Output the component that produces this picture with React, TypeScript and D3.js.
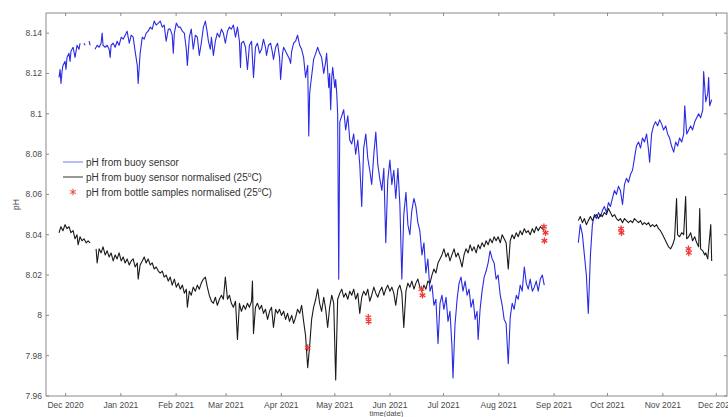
import React from "react";
import * as d3 from "d3";

// days since 1 Dec 2020, pH
const buoyRawA: [number, number][] = [
  [-3.7, 8.118], [-3.1, 8.122], [-2.6, 8.115], [-2.0, 8.121], [-1.5, 8.124], [-0.3, 8.126], [0.2, 8.122],
  [0.8, 8.128], [1.9, 8.13], [2.5, 8.126], [3.0, 8.131], [4.2, 8.133], [5.3, 8.128], [6.4, 8.134],
  [7.5, 8.132], [8.1, 8.135],
];
const buoyRawB: [number, number][] = [[10.3, 8.135], [10.9, 8.134]];
const buoyRawC: [number, number][] = [[13.2, 8.136], [13.7, 8.134]];
const buoyRawD: [number, number][] = [
  [16.5, 8.132], [17.7, 8.134], [18.8, 8.133], [19.9, 8.135], [20.5, 8.14], [21.0, 8.134], [22.2, 8.133],
  [23.3, 8.134], [24.4, 8.132], [25.0, 8.128], [25.5, 8.134], [26.7, 8.135], [27.8, 8.133], [28.9, 8.136],
  [30.0, 8.134], [31.2, 8.138], [32.3, 8.137], [33.4, 8.139], [34.5, 8.141], [35.7, 8.135], [36.8, 8.139],
  [37.9, 8.138], [39.0, 8.131], [40.2, 8.124], [40.7, 8.115], [41.8, 8.13], [43.0, 8.138], [44.1, 8.137],
  [45.2, 8.14], [46.3, 8.141], [47.5, 8.143], [48.6, 8.142], [49.7, 8.146], [50.8, 8.144], [52.0, 8.145],
  [53.1, 8.146], [54.2, 8.143], [55.3, 8.144], [56.4, 8.136], [57.6, 8.142], [58.7, 8.142], [59.8, 8.139],
  [60.4, 8.13], [61.0, 8.14], [62.1, 8.145], [63.2, 8.143], [64.3, 8.143], [65.5, 8.141], [66.6, 8.14],
  [67.7, 8.132], [68.3, 8.124], [69.4, 8.138], [70.5, 8.142], [71.6, 8.132], [72.8, 8.139], [73.9, 8.138],
  [75.0, 8.129], [76.1, 8.135], [77.3, 8.143], [78.4, 8.146], [79.5, 8.14], [80.1, 8.136], [81.2, 8.132],
  [81.8, 8.138], [82.9, 8.129], [84.0, 8.136], [85.1, 8.14], [86.3, 8.138], [87.4, 8.142], [88.5, 8.14],
  [89.6, 8.135], [90.8, 8.141], [91.9, 8.143], [93.0, 8.142], [94.1, 8.144], [95.3, 8.138], [96.4, 8.143],
  [97.5, 8.136], [98.1, 8.123], [98.6, 8.135], [99.8, 8.136], [100.9, 8.133], [102.0, 8.122], [103.1, 8.134],
  [104.3, 8.136], [105.4, 8.118], [106.5, 8.133], [107.6, 8.135], [108.8, 8.13], [109.9, 8.132], [111.0, 8.137],
  [112.1, 8.133], [112.7, 8.129], [113.8, 8.134], [115.0, 8.135], [116.1, 8.13], [116.6, 8.127], [117.8, 8.133],
  [118.9, 8.135], [120.0, 8.128], [120.6, 8.117], [121.7, 8.13], [122.3, 8.133], [123.4, 8.131], [124.5, 8.129],
  [125.6, 8.127], [126.2, 8.125], [126.8, 8.131], [127.9, 8.135], [129.0, 8.136], [130.1, 8.139], [131.3, 8.134],
  [132.4, 8.132], [133.5, 8.128], [134.6, 8.118], [135.8, 8.124], [136.4, 8.089], [136.9, 8.11], [137.5, 8.115],
  [138.6, 8.123], [139.1, 8.127], [140.3, 8.13], [141.4, 8.133], [142.5, 8.13], [143.6, 8.128], [144.8, 8.12],
  [145.9, 8.126], [146.4, 8.13], [147.6, 8.113], [148.1, 8.12], [148.7, 8.102], [149.3, 8.118], [149.8, 8.123],
  [151.0, 8.113], [151.5, 8.117], [152.1, 8.11], [152.6, 8.1], [153.2, 8.018], [153.8, 8.096], [154.9, 8.099],
  [156.0, 8.102], [157.1, 8.092], [158.3, 8.099], [159.4, 8.087], [160.5, 8.085], [161.6, 8.09], [162.7, 8.08],
  [163.9, 8.087], [165.0, 8.075], [166.1, 8.054], [167.2, 8.083], [168.4, 8.09], [169.5, 8.078], [170.6, 8.072],
  [171.7, 8.065], [172.9, 8.08], [174.0, 8.091], [175.1, 8.075], [176.2, 8.068], [177.4, 8.062], [178.5, 8.073],
  [179.6, 8.036], [180.7, 8.067], [181.9, 8.077], [183.0, 8.065], [184.1, 8.072], [185.2, 8.058], [186.4, 8.073],
  [187.5, 8.055], [188.6, 8.018], [189.7, 8.05], [190.9, 8.061], [192.0, 8.045], [193.1, 8.04], [194.2, 8.052],
  [195.4, 8.058], [196.5, 8.054], [197.6, 8.046], [198.7, 8.042], [199.9, 8.03], [201.0, 8.036], [202.1, 8.021],
  [203.2, 8.028], [204.4, 8.012], [205.5, 8.015], [206.6, 8.005], [207.7, 8.008], [208.9, 7.986], [210.0, 8.006],
  [211.1, 8.01], [212.2, 8.003], [213.4, 8.009], [214.5, 7.997], [215.6, 8.002], [216.7, 7.985], [217.3, 7.969],
  [218.4, 7.995], [219.6, 8.008], [220.7, 8.016], [221.8, 8.019], [222.9, 8.012], [224.1, 8.017], [225.2, 8.01],
  [226.3, 8.013], [227.4, 8.004], [228.6, 8.008], [229.7, 7.998], [230.8, 8.002], [231.4, 7.988], [232.5, 8.003],
  [233.6, 8.012], [234.8, 8.019], [235.9, 8.022], [237.0, 8.026], [238.1, 8.032], [239.3, 8.028], [240.4, 8.026],
  [241.5, 8.018], [242.6, 8.02], [243.8, 8.01], [244.9, 8.005], [246.0, 7.998], [247.1, 7.996], [248.3, 7.976],
  [249.4, 7.999], [250.5, 8.006], [251.6, 8.003], [252.8, 8.01], [253.9, 8.008], [255.0, 8.015], [256.1, 8.012],
  [257.3, 8.024], [258.4, 8.016], [259.5, 8.013], [260.6, 8.018], [261.8, 8.012], [262.9, 8.014], [264.0, 8.017],
  [265.1, 8.012], [266.3, 8.018], [267.4, 8.02], [268.5, 8.015],
];
const buoyRawE: [number, number][] = [
  [287.6, 8.036], [288.7, 8.045], [289.9, 8.04], [291.0, 8.03], [292.1, 8.02], [293.2, 8.001], [294.4, 8.03],
  [295.5, 8.045], [296.6, 8.05], [297.7, 8.048], [298.9, 8.051], [300.0, 8.049], [301.1, 8.052], [302.2, 8.054],
  [303.4, 8.051], [304.5, 8.056], [305.6, 8.054], [306.7, 8.058], [307.9, 8.062], [309.0, 8.06], [310.1, 8.064],
  [311.2, 8.062], [312.4, 8.055], [313.5, 8.065], [314.6, 8.068], [315.7, 8.066], [316.9, 8.07], [318.0, 8.072],
  [319.1, 8.078], [320.2, 8.084], [321.4, 8.086], [322.5, 8.083], [323.6, 8.088], [324.7, 8.086], [325.9, 8.09],
  [327.0, 8.082], [327.6, 8.076], [328.7, 8.09], [329.8, 8.094], [330.9, 8.096], [332.1, 8.094], [333.2, 8.097],
  [334.3, 8.095], [335.4, 8.092], [336.6, 8.094], [337.7, 8.09], [338.8, 8.088], [339.9, 8.084], [341.1, 8.081],
  [342.2, 8.086], [343.3, 8.084], [344.4, 8.088], [345.6, 8.086], [346.7, 8.09], [347.3, 8.104], [348.4, 8.09],
  [349.5, 8.092], [350.6, 8.094], [351.7, 8.092], [352.9, 8.096], [354.0, 8.098], [355.1, 8.1], [356.2, 8.098],
  [357.4, 8.102], [357.9, 8.121], [359.1, 8.106], [360.2, 8.11], [360.7, 8.118], [361.3, 8.104], [362.4, 8.107],
];

const buoyNormA: [number, number][] = [
  [-3.7, 8.041], [-2.6, 8.044], [-1.5, 8.042], [-0.3, 8.045], [0.8, 8.043], [1.9, 8.044], [3.0, 8.041],
  [4.2, 8.042], [5.3, 8.038], [6.4, 8.04], [7.0, 8.035], [8.1, 8.039], [9.2, 8.037], [10.3, 8.038],
  [11.5, 8.036], [12.6, 8.037], [13.7, 8.036],
];
const buoyNormB: [number, number][] = [
  [17.1, 8.033], [17.7, 8.026], [18.8, 8.033], [19.9, 8.031], [21.0, 8.034], [22.2, 8.03], [23.3, 8.032],
  [24.4, 8.029], [25.5, 8.031], [26.7, 8.027], [27.8, 8.03], [28.9, 8.028], [30.0, 8.031], [31.2, 8.027],
  [32.3, 8.029], [33.4, 8.026], [34.5, 8.028], [35.7, 8.025], [36.8, 8.027], [37.9, 8.028], [39.0, 8.024],
  [40.2, 8.026], [40.7, 8.018], [41.8, 8.025], [43.0, 8.027], [44.1, 8.029], [45.2, 8.026], [46.3, 8.028],
  [47.5, 8.025], [48.6, 8.026], [49.7, 8.023], [50.8, 8.024], [52.0, 8.022], [53.1, 8.021], [54.2, 8.022],
  [55.3, 8.019], [56.4, 8.02], [57.6, 8.017], [58.7, 8.019], [59.8, 8.015], [61.0, 8.018], [62.1, 8.014],
  [63.2, 8.016], [64.3, 8.013], [65.5, 8.015], [66.6, 8.011], [67.7, 8.013], [68.3, 8.004], [69.4, 8.012],
  [70.5, 8.01], [71.6, 8.014], [72.8, 8.012], [73.9, 8.015], [75.0, 8.013], [76.1, 8.016], [77.3, 8.018],
  [78.4, 8.019], [79.5, 8.014], [80.6, 8.01], [81.8, 8.007], [82.9, 8.006], [84.0, 8.009], [85.1, 8.005],
  [86.3, 8.008], [87.4, 8.01], [88.5, 8.008], [89.6, 8.019], [90.8, 8.008], [91.9, 8.01], [93.0, 8.006],
  [94.1, 8.004], [95.3, 8.007], [96.4, 7.988], [97.5, 8.006], [98.6, 8.002], [99.8, 8.005], [100.9, 8.003],
  [102.0, 8.006], [103.1, 8.004], [104.3, 8.007], [104.8, 8.017], [105.4, 7.991], [106.5, 8.004], [107.6, 8.006],
  [108.8, 8.003], [109.9, 8.005], [111.0, 8.001], [112.1, 8.003], [113.3, 7.998], [114.4, 8.002], [115.5, 8.004],
  [116.6, 7.994], [117.8, 8.003], [118.9, 8.001], [120.0, 8.003], [121.1, 8.0], [122.3, 8.002], [123.4, 7.998],
  [124.5, 8.001], [125.6, 7.997], [126.8, 8.0], [127.9, 7.996], [129.0, 7.999], [130.1, 8.003], [131.3, 8.001],
  [132.4, 8.005], [133.5, 7.997], [134.6, 7.99], [135.8, 7.974], [136.9, 7.985], [138.0, 7.998], [139.1, 8.004],
  [140.3, 8.008], [141.4, 8.013], [142.5, 8.006], [143.6, 8.002], [144.8, 8.009], [145.9, 8.003], [147.0, 7.994],
  [148.1, 8.004], [149.3, 8.01], [150.4, 8.006], [151.5, 7.968], [152.6, 8.008], [153.8, 8.011], [154.9, 8.013],
  [156.0, 8.009], [157.1, 8.011], [158.3, 8.008], [159.4, 8.012], [160.5, 8.01], [161.6, 8.013], [162.7, 8.008],
  [163.9, 8.011], [165.0, 8.001], [166.1, 8.009], [167.2, 8.012], [168.4, 8.01], [169.5, 8.013], [170.6, 8.007],
  [171.7, 8.01], [172.9, 8.014], [174.0, 8.011], [175.1, 8.009], [176.2, 8.012], [177.4, 8.014], [178.5, 8.01],
  [179.6, 8.013], [180.7, 8.015], [181.9, 8.012], [183.0, 8.014], [184.1, 8.011], [185.2, 8.005], [186.4, 8.013],
  [187.5, 8.015], [188.6, 8.011], [189.7, 7.994], [190.9, 8.012], [192.0, 8.016], [193.1, 8.014], [194.2, 8.017],
  [195.4, 8.013], [196.5, 8.016], [197.6, 8.018], [198.7, 8.014], [199.9, 8.012], [201.0, 8.015], [202.1, 8.013],
  [203.2, 8.017], [204.4, 8.016], [205.5, 8.02], [206.6, 8.023], [207.7, 8.021], [208.9, 8.026], [210.0, 8.028],
  [211.1, 8.03], [212.2, 8.033], [213.4, 8.029], [214.5, 8.031], [215.6, 8.027], [216.7, 8.03], [217.9, 8.033],
  [219.0, 8.029], [220.1, 8.031], [221.2, 8.028], [222.4, 8.024], [223.5, 8.03], [224.6, 8.033], [225.8, 8.031],
  [226.9, 8.035], [228.0, 8.032], [229.1, 8.034], [230.3, 8.031], [231.4, 8.035], [232.5, 8.033], [233.6, 8.036],
  [234.8, 8.034], [235.9, 8.037], [237.0, 8.035], [238.1, 8.038], [239.3, 8.036], [240.4, 8.039], [241.5, 8.037],
  [242.6, 8.039], [243.8, 8.036], [244.9, 8.04], [246.0, 8.038], [247.1, 8.036], [248.3, 8.023], [249.4, 8.037],
  [250.5, 8.04], [251.6, 8.038], [252.8, 8.041], [253.9, 8.039], [255.0, 8.042], [256.1, 8.04], [257.3, 8.043],
  [258.4, 8.041], [259.5, 8.042], [260.6, 8.04], [261.8, 8.043], [262.9, 8.041], [264.0, 8.044], [265.1, 8.042],
  [266.3, 8.044], [267.4, 8.043], [268.5, 8.042],
];
const buoyNormC: [number, number][] = [
  [287.6, 8.047], [288.7, 8.049], [289.9, 8.046], [291.0, 8.048], [292.1, 8.045], [293.2, 8.047], [294.4, 8.049],
  [295.5, 8.047], [296.6, 8.049], [297.7, 8.05], [298.9, 8.048], [300.0, 8.05], [301.1, 8.049], [302.2, 8.051],
  [303.4, 8.05], [304.5, 8.053], [305.6, 8.051], [306.7, 8.049], [307.9, 8.05], [309.0, 8.048], [310.1, 8.047],
  [311.2, 8.048], [312.4, 8.046], [313.5, 8.048], [314.6, 8.047], [315.7, 8.046], [316.9, 8.047], [318.0, 8.046],
  [319.1, 8.048], [320.2, 8.047], [321.4, 8.046], [322.5, 8.047], [323.6, 8.045], [324.7, 8.046], [325.9, 8.045],
  [327.0, 8.046], [328.1, 8.044], [329.2, 8.045], [330.4, 8.044], [331.5, 8.045], [332.6, 8.043], [333.7, 8.042],
  [334.9, 8.04], [336.0, 8.038], [337.1, 8.036], [338.2, 8.034], [339.4, 8.033], [340.5, 8.035], [341.6, 8.038],
  [342.7, 8.058], [343.3, 8.04], [344.4, 8.039], [345.6, 8.041], [346.7, 8.04], [347.8, 8.059], [348.4, 8.038],
  [349.5, 8.039], [350.6, 8.041], [351.7, 8.037], [352.9, 8.039], [354.0, 8.036], [355.1, 8.034], [355.7, 8.053],
  [356.2, 8.033], [357.4, 8.032], [358.5, 8.03], [359.1, 8.031], [360.2, 8.028], [361.9, 8.045], [362.4, 8.027],
];

const bottleSamples: [number, number][] = [
  [135.8, 7.984], [169.8, 7.999], [170.0, 7.997], [199.6, 8.013], [200.2, 8.01],
  [268.3, 8.044], [268.6, 8.037], [269.2, 8.041], [311.6, 8.043], [311.8, 8.041],
  [349.4, 8.033], [349.6, 8.031],
];

const yTicks = [7.96, 7.98, 8, 8.02, 8.04, 8.06, 8.08, 8.1, 8.12, 8.14];
const monthTicks = [
  "2020-12-01", "2021-01-01", "2021-02-01", "2021-03-01", "2021-04-01", "2021-05-01", "2021-06-01",
  "2021-07-01", "2021-08-01", "2021-09-01", "2021-10-01", "2021-11-01", "2021-12-01",
];
const legendLabels = [
  "pH from buoy sensor",
  "pH from buoy sensor normalised (25",
  "pH from bottle samples normalised (25",
];

const W = 728;
const H = 417;
const m = { top: 13, right: 1, bottom: 21, left: 46 };
const base = Date.UTC(2020, 11, 1);
const toDate = (d: number) => new Date(base + d * 86400000);

export default function App() {
  const x = d3
    .scaleUtc()
    .domain([new Date(Date.UTC(2020, 10, 20)), new Date(Date.UTC(2021, 11, 7))])
    .range([m.left, W - m.right]);
  const y = d3.scaleLinear().domain([7.96, 8.15]).range([H - m.bottom, m.top]);

  const line = d3
    .line<[number, number]>()
    .x((d) => x(toDate(d[0])))
    .y((d) => y(d[1]));

  const rawSegs = [buoyRawA, buoyRawB, buoyRawC, buoyRawD, buoyRawE];
  const normSegs = [buoyNormA, buoyNormB, buoyNormC];
  const star = d3.symbol(d3.symbolAsterisk, 30);
  const fmt = d3.format(".2~f");
  const monthFmt = d3.utcFormat("%b %Y");
  const x0 = m.left, x1 = W - m.right, y0 = m.top, y1 = H - m.bottom;
  const font = "'Liberation Sans', Arial, sans-serif";

  return (
    <svg width={W} height={H} style={{ position: "absolute", left: 0, top: 0, background: "#fff" }}>
      <defs>
        <clipPath id="plot">
          <rect x={x0} y={y0} width={x1 - x0} height={y1 - y0} />
        </clipPath>
      </defs>

      <g clipPath="url(#plot)" fill="none" strokeLinejoin="round">
        {rawSegs.map((s, i) => (
          <path key={"r" + i} d={line(s) || ""} stroke="#2a2ae6" strokeWidth={1.1} />
        ))}
        {normSegs.map((s, i) => (
          <path key={"n" + i} d={line(s) || ""} stroke="#1a1a1a" strokeWidth={1.1} />
        ))}
        {bottleSamples.map((d, i) => (
          <path
            key={"b" + i}
            d={star() || ""}
            transform={`translate(${x(toDate(d[0]))},${y(d[1])})`}
            stroke="#f03a3a"
            strokeWidth={1.3}
          />
        ))}
      </g>

      {/* frame */}
      <rect x={x0} y={y0} width={x1 - x0} height={y1 - y0} fill="none" stroke="#8a8a8a" strokeWidth={1} />

      {/* ticks and axis labels */}
      <g fontFamily={font} fontSize={8.5} fill="#4a4a4a">
        {yTicks.map((t) => (
          <g key={t}>
            <line x1={x0} x2={x0 + 3} y1={y(t)} y2={y(t)} stroke="#8a8a8a" />
            <line x1={x1} x2={x1 - 3} y1={y(t)} y2={y(t)} stroke="#8a8a8a" />
            <text x={x0 - 4} y={y(t)} dy="0.35em" textAnchor="end">
              {fmt(t)}
            </text>
          </g>
        ))}
        {monthTicks.map((s) => {
          const dt = new Date(s + "T00:00:00Z");
          const px = x(dt);
          return (
            <g key={s}>
              <line x1={px} x2={px} y1={y1} y2={y1 - 3} stroke="#8a8a8a" />
              <line x1={px} x2={px} y1={y0} y2={y0 + 3} stroke="#8a8a8a" />
              <text x={px} y={y1 + 12} textAnchor="middle">
                {monthFmt(dt)}
              </text>
            </g>
          );
        })}
        <text x={(x0 + x1) / 2} y={H - 1} textAnchor="middle" fontSize={7.5}>
          time(date)
        </text>
        <text transform={`translate(19,${(y0 + y1) / 2}) rotate(-90)`} textAnchor="middle">
          pH
        </text>
      </g>

      {/* legend */}
      <g fontFamily={font} fontSize={10} fill="#333">
        <line x1={63} x2={83} y1={162} y2={162} stroke="#8c8cf5" strokeWidth={1.2} />
        <line x1={63} x2={83} y1={177} y2={177} stroke="#333" strokeWidth={1} />
        <path d={star() || ""} transform="translate(73,192)" stroke="#f03a3a" strokeWidth={1} fill="none" />
        {legendLabels.map((l, i) => (
          <text key={l} x={86} y={162 + i * 15} dy="0.35em">
            {l}
            {i > 0 ? (
              <>
                <tspan dy="-3.5" fontSize={6.5}>o</tspan>
                <tspan dy="3.5">C)</tspan>
              </>
            ) : null}
          </text>
        ))}
      </g>
    </svg>
  );
}
